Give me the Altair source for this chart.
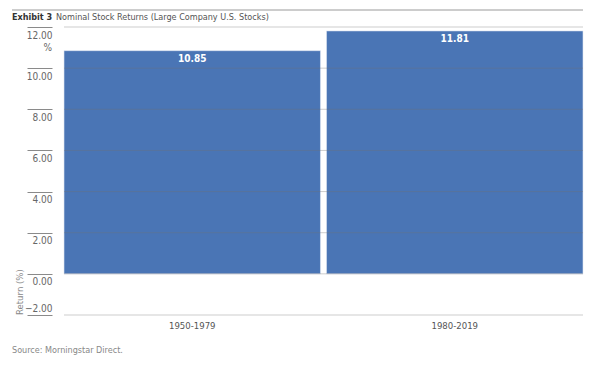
import altair as alt
import pandas as pd

categories = ["1950-1979", "1980-2019"]
values = [10.85, 11.81]
y_ticks = [-2, 0, 2, 4, 6, 8, 10, 12]

title_bold = "Exhibit 3"
title_rest = "Nominal Stock Returns (Large Company U.S. Stocks)"
source = "Source: Morningstar Direct."
y_title = "Return (%)"

FONT = "DejaVu Sans Condensed, Liberation Sans Narrow, sans-serif"
BAR = "#4a75b5"

df = pd.DataFrame({"period": categories, "ret": values})

W, H = 519, 288

xenc = alt.X("period:N", sort=categories, title=None,
             scale=alt.Scale(paddingInner=0.023, paddingOuter=0),
             axis=alt.Axis(labelAngle=0, ticks=False, domain=False, labelPadding=5,
                           labelFont=FONT, labelFontSize=9.5, labelColor="#555"))
yenc = alt.Y("ret:Q", title=None,
             scale=alt.Scale(domain=[-2, 12], nice=False, zero=False),
             axis=alt.Axis(values=y_ticks, format=".2f", domain=False,
                           offset=12, tickSize=25, tickColor="#8a8a8a", tickWidth=1,
                           labelAlign="right", labelPadding=-25,
                           labelBaseline={"condition": {"test": "datum.value == -2", "value": "bottom"}, "value": "top"},
                           labelOffset={"condition": {"test": "datum.value == -2", "value": -2}, "value": 3},
                           labelFont=FONT, labelFontSize=10,
                           labelColor="#666", grid=False))

bars = alt.Chart(df).mark_bar(color=BAR, stroke="#dfe6f2", strokeWidth=0.6).encode(
    x=xenc, y=yenc, y2=alt.datum(0))

grid = alt.Chart(pd.DataFrame({"v": y_ticks})).mark_rule(
    color="#707070", opacity=0.35, strokeWidth=1).encode(
    y=alt.Y("v:Q", scale=alt.Scale(domain=[-2, 12], nice=False, zero=False)),
    x=alt.value(0), x2=alt.value(W))

labels = alt.Chart(df).mark_text(color="white", fontWeight="bold", font=FONT,
                                 fontSize=10, baseline="top", dy=3).encode(
    x=alt.X("period:N", sort=categories), y=alt.Y("ret:Q"),
    text=alt.Text("ret:Q", format=".2f"))

def txt(s, x, y, **kw):
    return alt.Chart(pd.DataFrame({"t": [s]})).mark_text(font=FONT, **kw).encode(
        x=alt.value(x), y=alt.value(y), text="t:N")

top_rule = alt.Chart(pd.DataFrame({"a": [0]})).mark_rule(color="#9a9a9a", strokeWidth=1).encode(
    x=alt.value(-52), x2=alt.value(W), y=alt.value(-17))

t1 = txt(title_bold, -52, -10, fontWeight="bold", fontSize=9, color="#333", align="left", baseline="middle")
t2 = txt(title_rest, -8, -10, fontSize=9, color="#555", align="left", baseline="middle")
pct = txt("%", -12, 21, fontSize=10, color="#666", align="right", baseline="middle")
ytitle = txt(y_title, -44, 288, fontSize=9.5, color="#888", angle=270, align="left", baseline="middle")
src = txt(source, -52, 323, fontSize=9, color="#888", align="left", baseline="middle")

chart = alt.layer(bars, grid, labels, top_rule, t1, t2, pct, ytitle, src).properties(
    width=W, height=H,
    autosize=alt.AutoSizeParams(type="none"),
    padding={"left": 64, "top": 27, "right": 17, "bottom": 50},
).configure_view(stroke=None)

chart.save("out.html", embed_options={"renderer": "svg", "actions": False})
